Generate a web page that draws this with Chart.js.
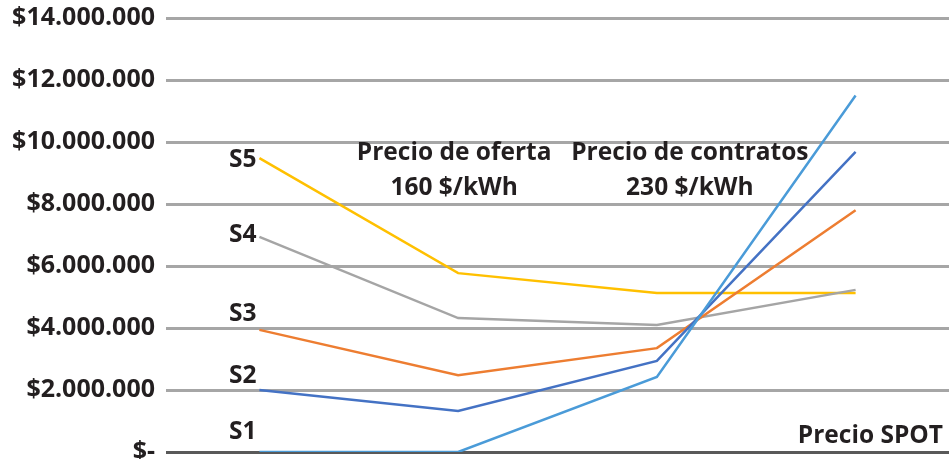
<!DOCTYPE html>
<html>
<head>
<meta charset="utf-8">
<script src="https://cdn.jsdelivr.net/npm/chart.js@4.4.1/dist/chart.umd.min.js"></script>
<style>
  html, body { margin: 0; padding: 0; background: #fff; }
  #wrap { width: 949px; height: 459px; }
</style>
</head>
<body>
<div id="wrap"><canvas id="myChart"></canvas></div>
<script>
// Scenario costs at each price point
const categories = ['Inicio', 'Oferta', 'Contratos', 'SPOT'];
const seriesNames = ['S1', 'S2', 'S3', 'S4', 'S5'];
const s1 = [0, 0, 2420000, 11500000];
const s2 = [2000000, 1320000, 2940000, 9680000];
const s3 = [3940000, 2480000, 3350000, 7800000];
const s4 = [6940000, 4320000, 4100000, 5230000];
const s5 = [9480000, 5770000, 5130000, 5130000];
const colors = ['#4A9BD8', '#4472C4', '#ED7D31', '#A5A5A5', '#FFC000'];
const yTicks = [0, 2000000, 4000000, 6000000, 8000000, 10000000, 12000000, 14000000];

// Text notes placed on the chart
const priceNotes = [
    { index: 1, lines: ['Precio de oferta', '160 $/kWh'] },
    { index: 2, lines: ['Precio de contratos', '230 $/kWh'] }
];
const axisNote = 'Precio SPOT';

// baseline shift of each series name from its first point (px)
const nameShift = [-13, -7, -9, 5, 9];
const noteShift = [-4, 33];

const font = '"Open Sans", "DejaVu Sans", sans-serif';
const textColor = '#231F20';

function money(v) {
    if (v === 0) return '$-';
    return '$' + v.toLocaleString('de-DE');
}

const ctx = document.getElementById('myChart').getContext('2d');

const data = {
    datasets: [s1, s2, s3, s4, s5].map((vals, i) => ({
        label: seriesNames[i],
        data: categories.map((cat, j) => ({ x: j, y: vals[j] })),
        borderColor: colors[i],
        backgroundColor: colors[i],
        borderWidth: 2.5,
        pointRadius: 0,
        tension: 0,
        fill: false
    }))
};

// Draws the S labels, price notes and the SPOT caption
const notesPlugin = {
    id: 'notes',
    afterDatasetsDraw(chart) {
        const c = chart.ctx;
        const xs = chart.scales.x;
        const ys = chart.scales.y;
        c.save();
        c.fillStyle = textColor;
        c.font = 'bold 24.5px ' + font;
        c.textBaseline = 'alphabetic';

        // series names next to their first point
        c.textAlign = 'right';
        chart.data.datasets.forEach((ds, i) => {
            const x = xs.getPixelForValue(0) - 3;
            const y = ys.getPixelForValue(ds.data[0].y) + nameShift[i];
            c.fillText(ds.label, x, y);
        });

        c.textAlign = 'center';
        priceNotes.forEach((n, i) => {
            const x = xs.getPixelForValue(n.index) + noteShift[i];
            c.fillText(n.lines[0], x, ys.getPixelForValue(9420000));
            c.fillText(n.lines[1], x, ys.getPixelForValue(8290000));
        });

        c.textAlign = 'right';
        c.fillText(axisNote, chart.chartArea.right - 6, ys.getPixelForValue(0) - 9);
        c.restore();
    }
};

const myChart = new Chart(ctx, {
    type: 'line',
    data: data,
    plugins: [notesPlugin],
    options: {
        responsive: true,
        maintainAspectRatio: false,
        animation: false,
        layout: { padding: { top: 18, right: 0, bottom: 7, left: 0 } },
        plugins: {
            legend: { display: false },
            tooltip: { enabled: false }
        },
        scales: {
            x: {
                type: 'linear',
                min: -0.47,
                max: 3.47,
                display: false
            },
            y: {
                min: 0,
                max: 14000000,
                afterFit(scale) {
                    scale.width = 166;
                    scale.paddingTop = 0;
                    scale.paddingBottom = 0;
                },
                afterBuildTicks(scale) {
                    scale.ticks = yTicks.map(v => ({ value: v }));
                },
                border: { display: false },
                grid: {
                    drawTicks: false,
                    lineWidth: 3,
                    color: c => c.tick && c.tick.value === 0 ? '#595959' : '#A6A6A6'
                },
                ticks: {
                    padding: 11,
                    color: textColor,
                    font: { family: font, size: 25, weight: 'bold' },
                    callback: v => money(v)
                }
            }
        }
    }
});
</script>
</body>
</html>
